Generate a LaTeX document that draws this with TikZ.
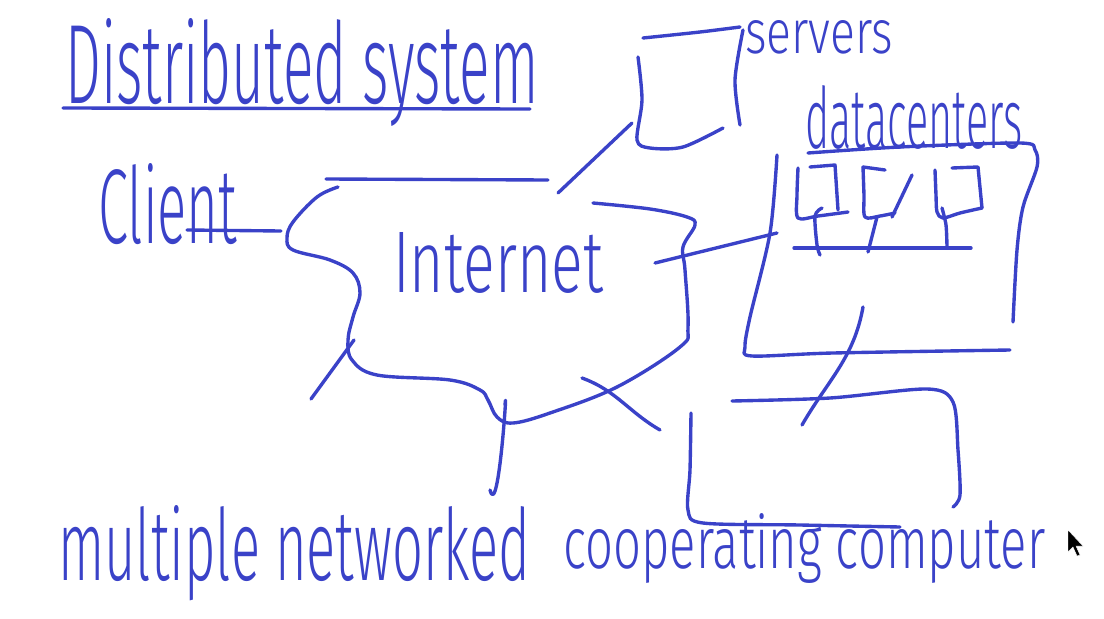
\documentclass[tikz,border=0pt]{standalone}
\usepackage{fontspec}
\usepackage{graphicx}
\newfontfamily\handfont{Fira Sans}[UprightFont={* Light}]
\usetikzlibrary{positioning}
\definecolor{penBlue}{HTML}{3A42C8}
\newlength{\pxu}
\setlength{\pxu}{0.025cm}
\newcommand{\inkbox}[3]{\resizebox{#1\pxu}{#2\pxu}{\handfont #3}}
\tikzset{
  pen/.style    = {draw=penBlue, line width=2.4pt, line cap=round,
                   line join=round},
  link/.style   = {pen},
  word/.style   = {inner sep=0pt, anchor=base west, text=penBlue},
  pointer/.style= {fill=black, draw=white, line width=0.3pt}
}

\begin{document}
\begin{tikzpicture}[x=0.025cm, y=-0.025cm]
\useasboundingbox (0,0) rectangle (1104,618);
% Title
\node[word] (title) at (65,103) {\inkbox{473}{85}{Distributed system}};
\draw[pen] (63,108) -- (530,109);
% Labels
\node[word] (client) at (98,243) {\inkbox{139}{80}{Client}};
\node[word] (internet) at (393,292) {\inkbox{210}{60}{Internet}};
\node[word] (servers) at (745,53) {\inkbox{148}{33}{servers}};
\node[word] (datacenters) at (805,148) {\inkbox{217}{63}{datacenters}};
\node[word] (multi) at (58,580) {\inkbox{472}{75}{multiple networked}};
\node[word] (coop) at (563,568) {\inkbox{482}{55}{cooperating computer}};
% Cloud (internet)
\draw[pen] (326,179) -- (548,180);
\draw[pen] plot[smooth, tension=0.6] coordinates {
  (338,187) (317,197) (293,222) (287,238) (293,250) (330,260) (353,273)
  (360,293) (353,317) (348,340) (352,360) (377,375) (450,380) (480,390)
  (488,400) (497,417) (513,423) (550,413) (617,387) (680,347) (688,327)
  (685,270) (683,247) (695,225) (687,217) (650,209) (593,203)};
% Named ends of the connectors
\coordinate (clientEnd) at (187,230);
\coordinate (cloudW) at (281,231);
\coordinate (cloudNE) at (558,193);
\coordinate (serverSW) at (632,123);
\coordinate (cloudE) at (655,263);
\coordinate (dcW) at (777,233);
\coordinate (cloudSW) at (354,340);
\coordinate (freeSW) at (311,399);
\coordinate (cloudS) at (505,405);
\coordinate (freeS) at (490,490);
\coordinate (cloudSE) at (582,378);
\coordinate (boxNW) at (660,430);
\coordinate (dcS) at (863,307);
\coordinate (boxN) at (802,425);
% Connectors
\draw[link] (clientEnd) -- (cloudW);
\draw[link] (cloudNE) -- (serverSW);
\draw[link] (cloudE) -- (dcW);
\draw[link] (cloudSW) -- (freeSW);
\draw[link] (cloudS) to[out=85, in=-75] (freeS);
\draw[link] (cloudSE) to[out=-20, in=150] (boxNW);
\draw[link] (dcS) to[out=-100, in=60] (boxN);
% Server box
\draw[pen] plot[smooth, tension=0.5] coordinates {
  (643,38) (700,32) (740,27)};
\draw[pen] plot[smooth, tension=0.5] coordinates {
  (743,30) (735,80) (740,125)};
\draw[pen] plot[smooth, tension=0.5] coordinates {
  (638,57) (642,100) (637,140) (650,148) (683,147) (723,128)};
% Datacenter box
\draw[pen] plot[smooth, tension=0.5] coordinates {
  (808,153) (900,147) (1020,143) (1035,150) (1037,167) (1023,207)
  (1017,250) (1013,322)};
\draw[pen] plot[smooth, tension=0.5] coordinates {
  (777,155) (770,233) (750,317) (745,347) (752,356) (833,353) (1010,350)};
% Racks in the datacenter
\draw[pen] plot[smooth, tension=0.5] coordinates {
  (798,168) (797,195) (798,218) (818,216) (848,212)};
\draw[pen] (810,167) -- (835,165) -- (838,210);
\draw[pen] plot[smooth, tension=0.5] coordinates {
  (822,208) (815,216) (817,245) (820,255)};
\draw[pen] plot[smooth, tension=0.5] coordinates {
  (863,167) (864,195) (865,217) (880,216) (895,213)};
\draw[pen] (863,167) -- (885,170);
\draw[pen] (912,175) -- (892,217);
\draw[pen] (877,217) -- (868,252);
\draw[pen] plot[smooth, tension=0.5] coordinates {
  (935,170) (936,195) (937,212) (943,218) (960,213) (982,208)};
\draw[pen] (952,168) -- (978,167) -- (982,208);
\draw[pen] plot[smooth, tension=0.5] coordinates {
  (942,208) (946,225) (947,247)};
\draw[pen] (794,248) -- (971,248);
% Bottom computer
\draw[pen] plot[smooth, tension=0.5] coordinates {
  (732,401) (830,398) (927,389) (953,402) (958,450) (960,495) (953,507)};
\draw[pen] plot[smooth, tension=0.5] coordinates {
  (691,413) (690,470) (688,510) (703,523) (800,525) (900,527)};
% Mouse pointer
\path[pointer] (1068,530) -- (1068,552) -- (1073,547) -- (1077,556)
  -- (1080,555) -- (1076,546) -- (1083,546) -- cycle;
\end{tikzpicture}
\end{document}
